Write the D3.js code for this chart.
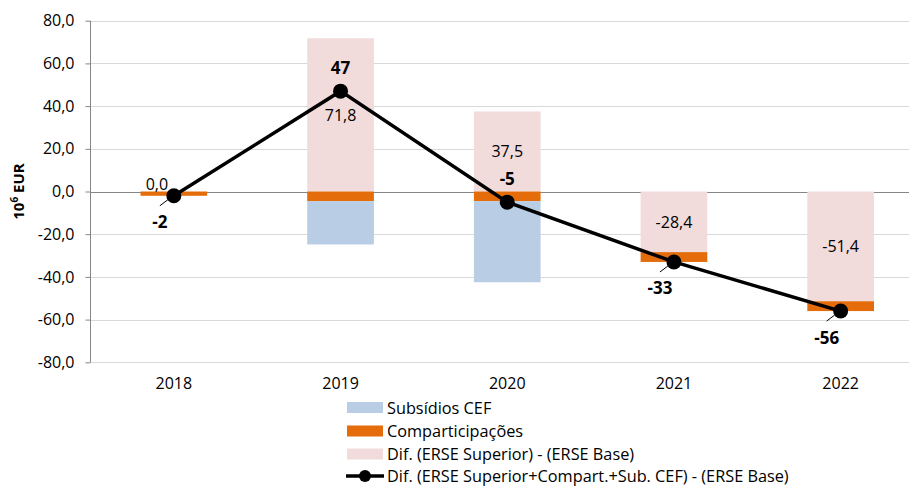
<!DOCTYPE html>
<html>
<head>
<meta charset="utf-8">
<script src="https://cdn.jsdelivr.net/npm/d3@7"></script>
<style>
  body { margin: 0; background: #fff; }
  svg text { font-family: "Open Sans", "Noto Sans", sans-serif; fill: #000; }
</style>
</head>
<body>
<svg id="chart" width="909" height="486"></svg>
<script>
// Categories and series (10^6 EUR)
const years = ["2018", "2019", "2020", "2021", "2022"];
const difSuperior = [0.0, 71.8, 37.5, -28.4, -51.4];      // Dif. (ERSE Superior) - (ERSE Base)
const comparticipacoes = [-2.0, -4.5, -4.5, -4.6, -4.6];  // Comparticipações
const subsidiosCEF = [0.0, -20.3, -38.0, 0.0, 0.0];       // Subsídios CEF
const difTotal = [-2, 47, -5, -33, -56];                  // Dif. (ERSE Superior+Compart.+Sub. CEF) - (ERSE Base)
const yTicks = [-80, -60, -40, -20, 0, 20, 40, 60, 80];

const legendItems = [
  { key: "sub", label: "Subsídios CEF", type: "bar" },
  { key: "comp", label: "Comparticipações", type: "bar" },
  { key: "dif", label: "Dif. (ERSE Superior) - (ERSE Base)", type: "bar" },
  { key: "total", label: "Dif. (ERSE Superior+Compart.+Sub. CEF) - (ERSE Base)", type: "line" }
];

const colors = { dif: "#f2dcdb", comp: "#e46c0a", sub: "#b9cde5" };
const fmt = v => d3.format(".1f")(v).replace("\u2212", "-").replace(".", ",");
const fmtInt = v => d3.format("d")(v).replace("\u2212", "-");

const svg = d3.select("#chart");
const plotLeft = 90.5, plotTop = 20.7, plotBottom = 362.3;
const W = 909;

const x = d3.scaleBand().domain(years).range([plotLeft, plotLeft + 5 * 166.7]).padding(0);
const y = d3.scaleLinear().domain([-80, 80]).range([plotBottom, plotTop]);
const barW = x.bandwidth() * 0.4;
const cx = d => x(d) + x.bandwidth() / 2;

// gridlines
svg.append("g").selectAll("line").data(yTicks.filter(t => t !== 0)).join("line")
  .attr("x1", plotLeft).attr("x2", W)
  .attr("y1", d => Math.round(y(d)) + 0.5).attr("y2", d => Math.round(y(d)) + 0.5)
  .attr("stroke", "#d9d9d9").attr("stroke-width", 1);

// zero line
svg.append("line")
  .attr("x1", plotLeft).attr("x2", W)
  .attr("y1", Math.round(y(0)) + 0.5).attr("y2", Math.round(y(0)) + 0.5)
  .attr("stroke", "#868686").attr("stroke-width", 1);

// stacked bars
const table = years.map((yr, i) => ({ year: yr, dif: difSuperior[i], comp: comparticipacoes[i], sub: subsidiosCEF[i] }));
const stack = d3.stack().keys(["dif", "comp", "sub"]).offset(d3.stackOffsetDiverging);
const series = stack(table);

svg.append("g").selectAll("g").data(series).join("g")
  .attr("fill", s => colors[s.key])
  .selectAll("rect").data(s => s).join("rect")
  .attr("x", d => cx(d.data.year) - barW / 2)
  .attr("width", barW)
  .attr("y", d => y(Math.max(d[0], d[1])))
  .attr("height", d => Math.abs(y(d[0]) - y(d[1])));

// y axis
const yAxis = d3.axisLeft(y).tickValues(yTicks).tickSize(5).tickPadding(11).tickFormat(fmt);
const ya = svg.append("g").attr("transform", `translate(${plotLeft},0)`).call(yAxis);
ya.select(".domain").attr("stroke", "#868686").attr("d", `M0,${plotTop}V${plotBottom}`);
ya.selectAll(".tick line").attr("stroke", "#868686");
ya.selectAll(".tick text").attr("font-size", 16).attr("fill", "#000")
  .style("font-family", '"Open Sans", sans-serif');

// x axis labels
const xAxis = d3.axisBottom(x).tickSize(0).tickPadding(15);
const xa = svg.append("g").attr("transform", `translate(0,${plotBottom})`).call(xAxis);
xa.select(".domain").remove();
xa.selectAll(".tick text").attr("font-size", 16).attr("fill", "#000")
  .style("font-family", '"Open Sans", sans-serif');

// y axis title
const yt = svg.append("text")
  .attr("transform", `translate(24,${y(0)}) rotate(-90)`)
  .attr("text-anchor", "middle").attr("font-size", 15).attr("font-weight", "bold");
yt.append("tspan").text("10");
yt.append("tspan").attr("font-size", 10).attr("dy", -6).text("6");
yt.append("tspan").attr("dy", 6).text(" EUR");

// labels on the "Dif. (ERSE Superior)" segments
const difNudge = { "2018": [-17, -8] };
svg.append("g").selectAll("text").data(table).join("text")
  .attr("x", d => cx(d.year) + (difNudge[d.year] ? difNudge[d.year][0] : 0))
  .attr("y", d => y(d.dif / 2) + (difNudge[d.year] ? difNudge[d.year][1] : 0))
  .attr("text-anchor", "middle").attr("dominant-baseline", "central")
  .attr("font-size", 16).attr("fill", "#000")
  .text(d => fmt(d.dif));

// total line
const pts = years.map((yr, i) => ({ year: yr, v: difTotal[i] }));
svg.append("path").datum(pts)
  .attr("fill", "none").attr("stroke", "#000").attr("stroke-width", 3.5)
  .attr("d", d3.line().x(d => cx(d.year)).y(d => y(d.v)));
svg.append("g").selectAll("circle").data(pts).join("circle")
  .attr("cx", d => cx(d.year)).attr("cy", d => y(d.v)).attr("r", 7.5).attr("fill", "#000");

// total labels: above for 2019/2020, below-left with a leader otherwise
const above = { "2019": true, "2020": true };
const lbl = svg.append("g");
pts.forEach(d => {
  const px = cx(d.year), py = y(d.v);
  if (above[d.year]) {
    lbl.append("text").attr("x", px).attr("y", py - 24)
      .attr("text-anchor", "middle").attr("dominant-baseline", "central")
      .attr("font-size", 17).attr("font-weight", "bold").text(fmtInt(d.v));
  } else {
    lbl.append("line").attr("x1", px - 14).attr("y1", py + 10).attr("x2", px - 6).attr("y2", py + 4)
      .attr("stroke", "#000").attr("stroke-width", 1);
    lbl.append("text").attr("x", px - 14).attr("y", py + 26)
      .attr("text-anchor", "middle").attr("dominant-baseline", "central")
      .attr("font-size", 17).attr("font-weight", "bold").text(fmtInt(d.v));
  }
});

// legend
const lg = svg.append("g").attr("transform", "translate(347,0)");
const rowY = [407.5, 431, 454, 476];
legendItems.forEach((it, i) => {
  const g = lg.append("g").attr("transform", `translate(0,${rowY[i]})`);
  if (it.type === "bar") {
    g.append("rect").attr("x", 0).attr("y", -5.5).attr("width", 36).attr("height", 11).attr("fill", colors[it.key]);
  } else {
    g.append("line").attr("x1", -1).attr("x2", 37).attr("y1", 0).attr("y2", 0).attr("stroke", "#000").attr("stroke-width", 3.5);
    g.append("circle").attr("cx", 18).attr("cy", 0).attr("r", 6).attr("fill", "#000");
  }
  g.append("text").attr("x", 40).attr("y", 0).attr("dominant-baseline", "central")
    .attr("font-size", 16.3).text(it.label);
});
</script>
</body>
</html>
